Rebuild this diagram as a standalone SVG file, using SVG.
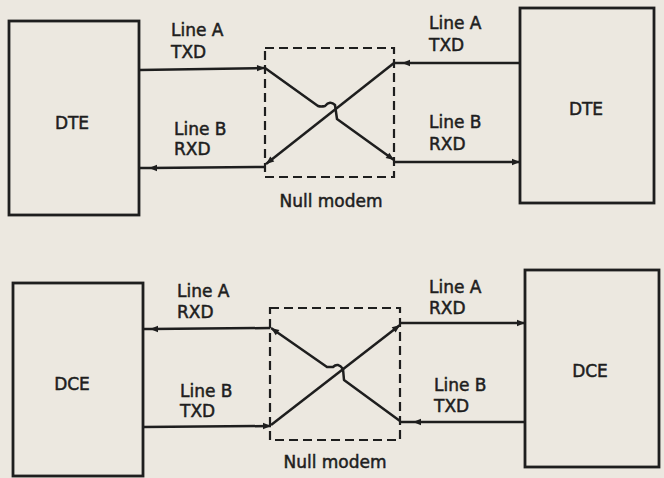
<svg xmlns="http://www.w3.org/2000/svg" width="664" height="478" viewBox="0 0 664 478">
<style>
.box{fill:none;stroke:#1e1e1e;stroke-width:2.8}
.nm{fill:none;stroke:#1e1e1e;stroke-width:2.2;stroke-dasharray:9 5}
.ln{fill:none;stroke:#1e1e1e;stroke-width:2.5;stroke-linejoin:round}
.t{font-family:"DejaVu Sans",sans-serif;font-size:17px;fill:#1e1e1e;stroke:#1e1e1e;stroke-width:0.5}
.c{text-anchor:middle}
</style>
<defs>
<marker id="ah" viewBox="0 0 10 10" refX="10" refY="5" markerWidth="12" markerHeight="8" markerUnits="userSpaceOnUse" orient="auto">
<path d="M0,1 L10,5 L0,9 z" fill="#1e1e1e"/>
</marker>
</defs>
<rect width="664" height="478" fill="#ece8e0"/>

<g id="dte-left"><rect class="box" x="9" y="21" width="130" height="194"/><text class="t c" x="72" y="129">DTE</text></g>
<g id="dte-right"><rect class="box" x="520" y="8" width="134" height="195"/><text class="t c" x="586" y="115">DTE</text></g>
<g id="null-modem-top"><rect class="nm" x="265" y="48" width="129" height="129"/><text class="t c" x="331" y="207">Null modem</text></g>

<g id="dce-left"><rect class="box" x="13" y="283" width="130" height="193"/><text class="t c" x="72" y="390">DCE</text></g>
<g id="dce-right"><rect class="box" x="525" y="270" width="134" height="197"/><text class="t c" x="590" y="377">DCE</text></g>
<g id="null-modem-bottom"><rect class="nm" x="270" y="308" width="130" height="132"/><text class="t c" x="335" y="468">Null modem</text></g>

<g id="connectors">
<path class="ln" d="M139 70 L265 68" marker-end="url(#ah)"/>
<path class="ln" d="M265 68 L318 106 Q321 107 325 106 Q330 100 335 105 L337 119 L394 160" marker-end="url(#ah)"/>
<path class="ln" d="M394 162 L520 162" marker-end="url(#ah)"/>
<path class="ln" d="M520 63 L402 63 L394 63" marker-mid="url(#ah)"/>
<path class="ln" d="M394 63 L266 164" marker-end="url(#ah)"/>
<path class="ln" d="M266 167 L149 168 L139 168" marker-mid="url(#ah)"/>

<path class="ln" d="M525 422 L413 422 L400 422" marker-mid="url(#ah)"/>
<path class="ln" d="M400 421 L344 380 L343 369 Q338 362 333 367 L327 367 L271 328" marker-end="url(#ah)"/>
<path class="ln" d="M270 328 L150 329 L143 329" marker-mid="url(#ah)"/>
<path class="ln" d="M143 427 L271 426" marker-end="url(#ah)"/>
<path class="ln" d="M271 425 L400 325" marker-end="url(#ah)"/>
<path class="ln" d="M400 323 L525 323" marker-end="url(#ah)"/>
</g>

<g id="labels">
<text class="t" x="171" y="36">Line A</text><text class="t" x="171" y="58">TXD</text>
<text class="t" x="174" y="135">Line B</text><text class="t" x="174" y="155">RXD</text>
<text class="t" x="429" y="29">Line A</text><text class="t" x="429" y="51">TXD</text>
<text class="t" x="429" y="128">Line B</text><text class="t" x="429" y="150">RXD</text>
<text class="t" x="177" y="297">Line A</text><text class="t" x="177" y="318">RXD</text>
<text class="t" x="180" y="397">Line B</text><text class="t" x="180" y="417">TXD</text>
<text class="t" x="429" y="293">Line A</text><text class="t" x="429" y="314">RXD</text>
<text class="t" x="434" y="391">Line B</text><text class="t" x="434" y="412">TXD</text>
</g>
</svg>
